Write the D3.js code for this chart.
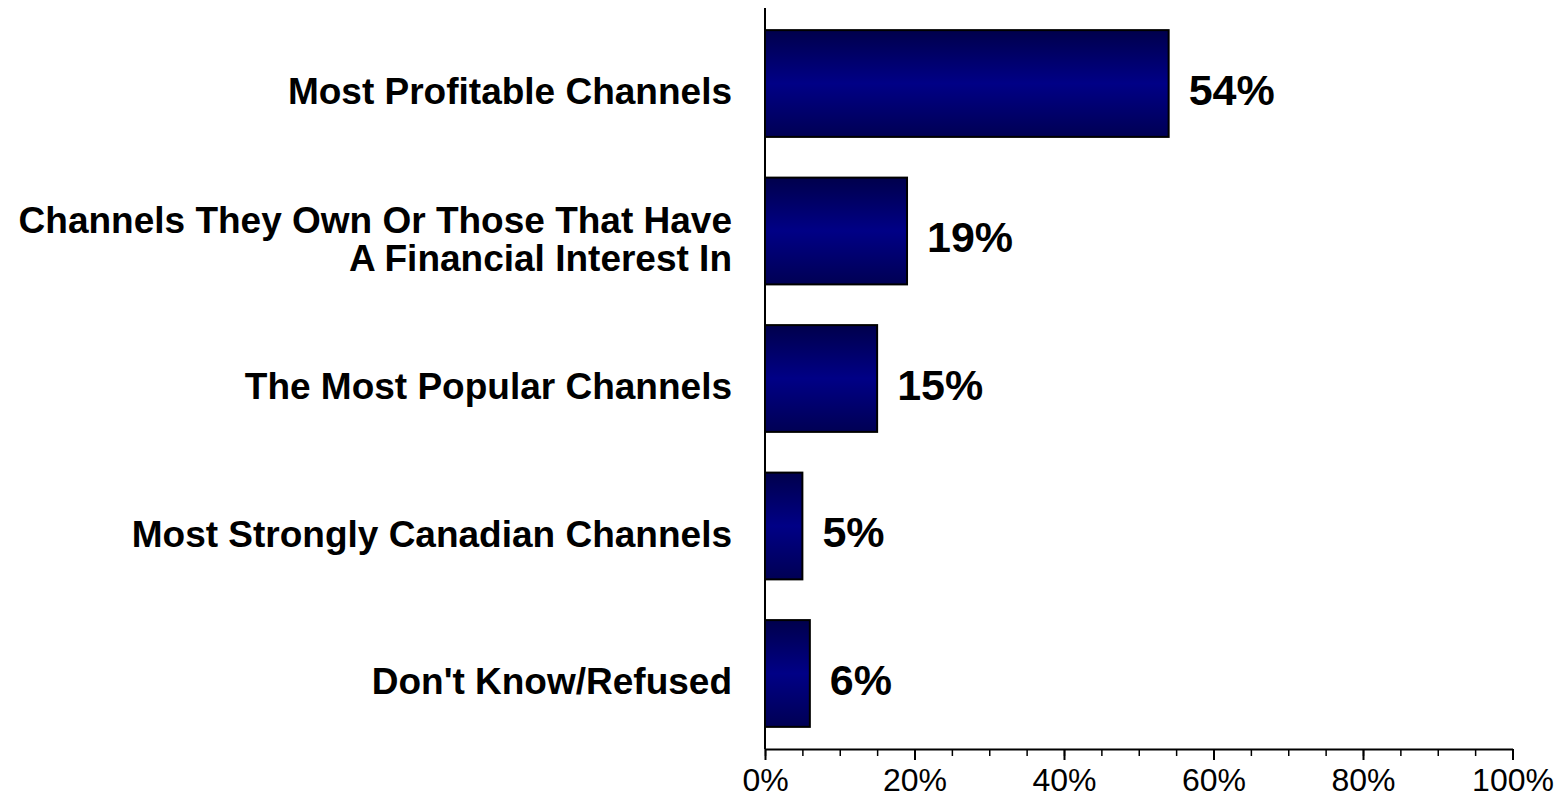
<!DOCTYPE html>
<html>
<head>
<meta charset="utf-8">
<script src="https://cdn.jsdelivr.net/npm/d3@7"></script>
<style>
  html, body { margin: 0; padding: 0; background: #fff; }
  svg { display: block; }
</style>
</head>
<body>
<svg id="chart" width="1558" height="798"></svg>
<script>
const categories = [
  ["Most Profitable Channels"],
  ["Channels They Own Or Those That Have", "A Financial Interest In"],
  ["The Most Popular Channels"],
  ["Most Strongly Canadian Channels"],
  ["Don't Know/Refused"]
];
const values = [54, 19, 15, 5, 6];
const majorTicks = [0, 20, 40, 60, 80, 100];
const minorTicks = d3.range(0, 101, 5);

const svg = d3.select("#chart");
const x0 = 765, x1 = 1512.5, yTop = 8, yAxis = 749;

const x = d3.scaleLinear().domain([0, 100]).range([x0, x1]);
const y = d3.scaleBand().domain(d3.range(values.length)).range([yTop, yAxis])
  .paddingInner(0.276).paddingOuter(0.15);

const defs = svg.append("defs");
const grad = defs.append("linearGradient").attr("id", "barGrad")
  .attr("x1", 0).attr("y1", 0).attr("x2", 0).attr("y2", 1);
grad.append("stop").attr("offset", "0%").attr("stop-color", "#00004c");
grad.append("stop").attr("offset", "50%").attr("stop-color", "#000086");
grad.append("stop").attr("offset", "100%").attr("stop-color", "#000054");

// bars
svg.append("g").selectAll("rect").data(values).join("rect")
  .attr("x", x(0))
  .attr("y", (d, i) => y(i))
  .attr("width", d => x(d) - x(0))
  .attr("height", y.bandwidth())
  .attr("fill", "url(#barGrad)")
  .attr("stroke", "#000")
  .attr("stroke-width", 2);

// value labels
svg.append("g").selectAll("text").data(values).join("text")
  .attr("x", d => x(d) + 20)
  .attr("y", (d, i) => y(i) + y.bandwidth() / 2 + 6)
  .attr("dy", "0.35em")
  .attr("font-family", "Liberation Sans, Arial, sans-serif")
  .attr("font-weight", "bold")
  .attr("font-size", 43)
  .attr("fill", "#000")
  .text(d => d + "%");

// category labels
const lineH = 38;
const catG = svg.append("g");
categories.forEach((lines, i) => {
  const cy = y(i) + y.bandwidth() / 2 + 8;
  const t = catG.append("text")
    .attr("text-anchor", "end")
    .attr("font-family", "Liberation Sans, Arial, sans-serif")
    .attr("font-weight", "bold")
    .attr("font-size", 37)
    .attr("fill", "#000");
  lines.forEach((ln, j) => {
    t.append("tspan")
      .attr("x", 732)
      .attr("y", cy + (j - (lines.length - 1) / 2) * lineH)
      .attr("dy", "0.35em")
      .text(ln);
  });
});

// x axis: minor ticks
const minorAxis = d3.axisBottom(x).tickValues(minorTicks).tickSize(7).tickFormat("");
const gMinor = svg.append("g").attr("transform", `translate(0,${yAxis})`).call(minorAxis);
gMinor.select(".domain").remove();
gMinor.selectAll("line").attr("stroke", "#000").attr("stroke-width", 1.5);

// x axis: major ticks + labels
const majorAxis = d3.axisBottom(x).tickValues(majorTicks).tickSize(11).tickSizeOuter(0)
  .tickPadding(8).tickFormat(d => d + "%");
const gMajor = svg.append("g").attr("transform", `translate(0,${yAxis})`).call(majorAxis);
gMajor.select(".domain").attr("stroke", "#000").attr("stroke-width", 2);
gMajor.selectAll("line").attr("stroke", "#000").attr("stroke-width", 2);
gMajor.selectAll("text")
  .attr("font-family", "Liberation Sans, Arial, sans-serif")
  .attr("font-size", 32)
  .attr("fill", "#000");

// y axis line
svg.append("line")
  .attr("x1", x0).attr("x2", x0)
  .attr("y1", yTop).attr("y2", yAxis)
  .attr("stroke", "#000").attr("stroke-width", 2);
</script>
</body>
</html>
